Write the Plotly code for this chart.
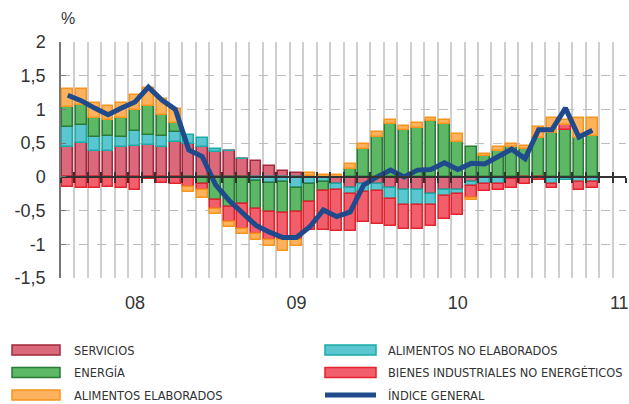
import plotly.graph_objects as go

# ---------------- data ----------------
months = [f"{y}-{m:02d}" for y in (2008, 2009, 2010, 2011) for m in range(1, 13)][:40]
year_labels = ["08", "09", "10", "11"]

servicios = [0.45, 0.50, 0.39, 0.39, 0.45, 0.46, 0.47, 0.45, 0.51, 0.49,
             0.45, 0.37, 0.39, 0.27, 0.23, 0.16, 0.08, 0.06, 0.02, 0.00,
             -0.10, -0.17, -0.11, -0.11, -0.17, -0.20, -0.19, -0.25, -0.19, -0.20,
             -0.07, -0.02, -0.02, -0.02, 0.00, 0.00, 0.00, 0.00, 0.00, 0.00]
alim_no_elab = [0.29, 0.27, 0.20, 0.21, 0.14, 0.22, 0.15, 0.15, 0.16, 0.13,
                0.12, 0.05, 0.00, 0.00, -0.06, -0.09, -0.07, -0.16, -0.10, -0.08,
                -0.09, -0.08, -0.11, -0.10, -0.16, -0.21, -0.22, -0.17, -0.10, -0.06,
                -0.07, -0.08, -0.08, -0.01, 0.00, 0.00, -0.10, -0.05, -0.08, -0.07]
energia = [0.29, 0.30, 0.28, 0.25, 0.29, 0.31, 0.43, 0.32, 0.13, -0.02,
           -0.10, -0.34, -0.45, -0.40, -0.42, -0.43, -0.47, -0.36, -0.27, -0.13,
           0.00, 0.12, 0.42, 0.59, 0.78, 0.69, 0.73, 0.83, 0.79, 0.52,
           0.44, 0.31, 0.38, 0.45, 0.42, 0.57, 0.65, 0.70, 0.57, 0.60]
bienes_ind = [-0.15, -0.16, -0.16, -0.15, -0.16, -0.19, -0.03, -0.09, -0.11, -0.13,
              -0.10, -0.13, -0.22, -0.37, -0.36, -0.41, -0.40, -0.42, -0.42, -0.58,
              -0.61, -0.55, -0.45, -0.49, -0.40, -0.37, -0.36, -0.31, -0.33, -0.31,
              -0.17, -0.11, -0.10, -0.13, -0.11, -0.05, -0.07, 0.07, -0.12, -0.10]
alim_elab = [0.27, 0.23, 0.23, 0.20, 0.21, 0.22, 0.27, 0.23, 0.20, -0.07,
             -0.11, -0.08, -0.08, -0.07, -0.10, -0.10, -0.16, -0.09, 0.03, 0.03,
             0.03, 0.07, 0.06, 0.07, 0.06, 0.06, 0.07, 0.05, 0.06, 0.11,
             -0.03, 0.03, 0.06, 0.03, 0.04, 0.17, 0.22, 0.08, 0.31, 0.28]
indice_general = [1.21, 1.13, 1.02, 0.92, 1.02, 1.11, 1.33, 1.14, 1.00, 0.40,
                  0.30, -0.12, -0.35, -0.54, -0.72, -0.82, -0.90, -0.90, -0.74, -0.49,
                  -0.59, -0.52, -0.12, 0.00, 0.10, 0.00, 0.10, 0.11, 0.21, 0.11,
                  0.20, 0.19, 0.30, 0.41, 0.27, 0.70, 0.70, 1.02, 0.59, 0.69]

y_ticks = [-1.5, -1, -0.5, 0, 0.5, 1, 1.5, 2]

names = ["SERVICIOS", "ALIMENTOS NO ELABORADOS", "ENERGÍA",
         "BIENES INDUSTRIALES NO ENERGÉTICOS", "ALIMENTOS ELABORADOS", "ÍNDICE GENERAL"]
fills = ["#d9697b", "#5cc6d0", "#5cb864", "#f15f6c", "#ffb25e"]
borders = ["#a3283d", "#18aca8", "#2a7a38", "#e5232c", "#f7941d"]
line_color = "#1f4a8c"

# ---------------- figure ----------------
W, H = 629, 404
PL, PR, PT, PB = 61, 626, 42, 278          # plot area in pixels

x = list(range(len(months)))
n_slots = len(months) + 2
series = [servicios, alim_no_elab, energia, bienes_ind, alim_elab]

fig = go.Figure()
for vals, name, fc, bc in zip(series, names[:5], fills, borders):
    fig.add_trace(go.Bar(x=x, y=vals, name=name, width=0.8,
                         marker=dict(color=fc, line=dict(color=bc, width=1.5)),
                         showlegend=False, hovertext=months))
fig.add_trace(go.Scatter(x=x, y=indice_general, name=names[5], mode="lines",
                         line=dict(color=line_color, width=5), showlegend=False,
                         hovertext=months))

xr = [-0.5, n_slots - 0.5]
boundaries = [i - 0.5 for i in range(n_slots + 1)]
lab_pos = [12 * i + 5 for i in range(len(year_labels))]
font = "Liberation Sans, Arial, sans-serif"

fig.update_layout(
    width=W, height=H,
    margin=dict(l=PL, r=W - PR, t=PT, b=H - PB, autoexpand=False),
    paper_bgcolor="white", plot_bgcolor="white",
    barmode="relative", bargap=0,
    font=dict(family=font, size=18, color="#333333"),
    xaxis=dict(range=xr, tickvals=lab_pos, ticktext=year_labels, ticks="",
               showgrid=False, zeroline=False, showline=False,
               ticklabelstandoff=12,
               minor=dict(tick0=-0.5, dtick=1, showgrid=True,
                          gridcolor="#cfcfcf", gridwidth=1.5)),
    yaxis=dict(range=[-1.5, 2], tickvals=y_ticks,
               ticktext=[("%g" % v).replace(".", ",") for v in y_ticks],
               showgrid=True, gridcolor="#bdbdbd", griddash="dash", gridwidth=1.2,
               zeroline=False, showline=True, linecolor="#777777", linewidth=1.5,
               ticks="inside", ticklen=5, tickcolor="#777777", tickwidth=1.2,
               ticklabelstandoff=10),
    xaxis2=dict(range=xr, overlaying="x", anchor="free", position=1.5 / 3.5,
                showline=True, linecolor="#333333", linewidth=1.5, layer="above traces",
                tickvals=boundaries, ticks="outside", ticklen=5, tickwidth=1.5,
                tickcolor="#333333", showticklabels=False, showgrid=False, zeroline=False),
    xaxis3=dict(range=xr, overlaying="x", anchor="free", position=1.5 / 3.5,
                showline=False, layer="above traces",
                tickvals=boundaries, ticks="inside", ticklen=5, tickwidth=1.5,
                tickcolor="#333333", showticklabels=False, showgrid=False, zeroline=False),
)
# dummy traces to activate the overlay axes
fig.add_trace(go.Scatter(x=[None], y=[None], xaxis="x2", showlegend=False, hoverinfo="skip"))
fig.add_trace(go.Scatter(x=[None], y=[None], xaxis="x3", showlegend=False, hoverinfo="skip"))

PW, PH = PR - PL, PB - PT
def px(xp):
    return (xp - PL) / PW
def py(yp):
    return (PB - yp) / PH

# "%" unit label
fig.add_annotation(x=px(68), y=py(18), xref="paper", yref="paper", text="%",
                   showarrow=False, font=dict(size=16, color="#333333"),
                   xanchor="center", yanchor="middle")

# manual legend
legend_font = "Liberation Sans Narrow, Arial Narrow, DejaVu Sans Condensed, sans-serif"
rows = [350, 372.5, 395]
cols = [(12, 60, 72), (325, 376, 386)]
layout_items = [(0, 0, 0), (1, 1, 0), (2, 0, 1), (3, 1, 1), (4, 0, 2), (5, 1, 2)]
for idx, c, r in layout_items:
    x0, x1, xt = cols[c]
    yc = rows[r]
    if idx < 5:
        fig.add_shape(type="rect", xref="paper", yref="paper",
                      x0=px(x0), x1=px(x1), y0=py(yc - 5), y1=py(yc + 5),
                      fillcolor=fills[idx], line=dict(color=borders[idx], width=1.5))
    else:
        fig.add_shape(type="line", xref="paper", yref="paper",
                      x0=px(x0), x1=px(x1), y0=py(yc), y1=py(yc),
                      line=dict(color=line_color, width=5))
    fig.add_annotation(x=px(xt), y=py(yc), xref="paper", yref="paper",
                       text=names[idx], showarrow=False, xanchor="left",
                       yanchor="middle", font=dict(family=legend_font, size=12.7,
                                                   color="#333333"))

fig.write_html("out.html",
               config={"displayModeBar": False},
               post_script="document.body.style.margin='0';"
                           "document.body.style.overflow='hidden';")
